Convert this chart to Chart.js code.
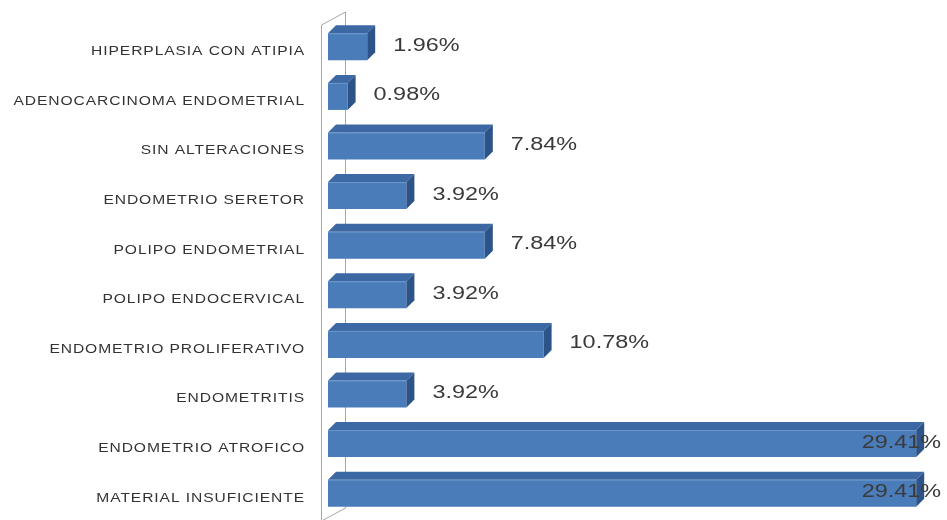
<!DOCTYPE html>
<html>
<head>
<meta charset="utf-8">
<script src="https://cdn.jsdelivr.net/npm/chart.js@4"></script>
<style>
  body { margin: 0; background: #fff; }
  #wrap { width: 947px; height: 520px; position: relative; }
</style>
</head>
<body>
<div id="wrap"><canvas id="chart-1"></canvas></div>
<script>
const categorias = [
  'HIPERPLASIA CON ATIPIA',
  'ADENOCARCINOMA ENDOMETRIAL',
  'SIN ALTERACIONES',
  'ENDOMETRIO SERETOR',
  'POLIPO ENDOMETRIAL',
  'POLIPO ENDOCERVICAL',
  'ENDOMETRIO PROLIFERATIVO',
  'ENDOMETRITIS',
  'ENDOMETRIO ATROFICO',
  'MATERIAL INSUFICIENTE',
];
const porcentajes = [1.96, 0.98, 7.84, 3.92, 7.84, 3.92, 10.78, 3.92, 29.41, 29.41];

const DEPTH = 8;
const STRETCH = 1.3;

function stretchedText(ctx, text, x, y, align, font, color, spacing) {
  ctx.save();
  ctx.font = font;
  ctx.fillStyle = color;
  ctx.textBaseline = 'middle';
  ctx.textAlign = align;
  ctx.letterSpacing = spacing || '0px';
  ctx.translate(x, y);
  ctx.scale(STRETCH, 1);
  ctx.fillText(text, 0, 0);
  ctx.restore();
}

function textWidth(ctx, text, font, spacing) {
  ctx.save();
  ctx.font = font;
  ctx.letterSpacing = spacing || '0px';
  const w = ctx.measureText(text).width * STRETCH;
  ctx.restore();
  return w;
}

// side wall behind the bars
const wall = {
  id: 'wall',
  beforeDatasetsDraw(chart) {
    const ctx = chart.ctx;
    const x0 = chart.scales.x.getPixelForValue(0);
    const { top, bottom } = chart.chartArea;
    const fx = x0 - 7, bx = x0 + 17;
    ctx.save();
    ctx.strokeStyle = '#a6a6a6';
    ctx.lineWidth = 1;
    ctx.beginPath();
    ctx.moveTo(fx + 0.5, 520);
    ctx.lineTo(fx + 0.5, top + 3);
    ctx.lineTo(bx + 0.5, top - 10);
    ctx.lineTo(bx + 0.5, bottom - 10);
    ctx.lineTo(fx + 0.5, bottom + 3);
    ctx.stroke();
    ctx.restore();
  },
};

// top and side faces, value labels and category labels
const bars3d = {
  id: 'bars3d',
  afterDatasetsDraw(chart) {
    const ctx = chart.ctx;
    const meta = chart.getDatasetMeta(0);
    const valFont = '18px "Liberation Sans", Arial, sans-serif';
    const catFont = '12px "Liberation Sans", Arial, sans-serif';
    meta.data.forEach((bar, i) => {
      const p = bar.getProps(['x', 'y', 'base', 'height'], true);
      const x0 = p.base, x1 = p.x;
      const t = p.y - p.height / 2, b = p.y + p.height / 2;
      ctx.save();
      // top face
      ctx.fillStyle = '#3c68a3';
      ctx.beginPath();
      ctx.moveTo(x0, t);
      ctx.lineTo(x1, t);
      ctx.lineTo(x1 + DEPTH, t - DEPTH);
      ctx.lineTo(x0 + DEPTH, t - DEPTH);
      ctx.closePath();
      ctx.fill();
      // side face
      ctx.fillStyle = '#2d5488';
      ctx.beginPath();
      ctx.moveTo(x1, t);
      ctx.lineTo(x1 + DEPTH, t - DEPTH);
      ctx.lineTo(x1 + DEPTH, b - DEPTH);
      ctx.lineTo(x1, b);
      ctx.closePath();
      ctx.fill();
      // light edge along the front top
      ctx.strokeStyle = '#6e98cc';
      ctx.lineWidth = 1;
      ctx.beginPath();
      ctx.moveTo(x0, t + 0.5);
      ctx.lineTo(x1, t + 0.5);
      ctx.stroke();
      ctx.restore();

      // value label
      const txt = porcentajes[i].toFixed(2) + '%';
      const w = textWidth(ctx, txt, valFont);
      let lx = x1 + 26;
      if (lx + w > chart.width - 6) lx = chart.width - 6 - w;
      stretchedText(ctx, txt, lx, p.y - 1, 'left', valFont, '#3a3a3a');

      // category label
      stretchedText(ctx, categorias[i], 305, p.y + 5, 'right', catFont, '#333333', '0.7px');
    });
  },
};

function generateChart() {
  const canvas = document.getElementById('chart-1');

  const data = {
    labels: categorias,
    datasets: [
      {
        label: 'Porcentaje',
        data: porcentajes,
        backgroundColor: '#4a7cba',
        borderWidth: 0,
        barPercentage: 0.545,
        categoryPercentage: 1,
      },
    ],
  };

  const config = {
    type: 'bar',
    data,
    options: {
      indexAxis: 'y',
      responsive: true,
      maintainAspectRatio: false,
      animation: false,
      layout: { padding: { left: 328, right: 19, top: 22, bottom: 2 } },
      scales: {
        x: { display: false, min: 0, max: 30 },
        y: { display: false },
      },
      plugins: {
        legend: { display: false },
        tooltip: { enabled: false },
      },
    },
    plugins: [wall, bars3d],
  };

  new Chart(canvas, config);
}

generateChart();
</script>
</body>
</html>
